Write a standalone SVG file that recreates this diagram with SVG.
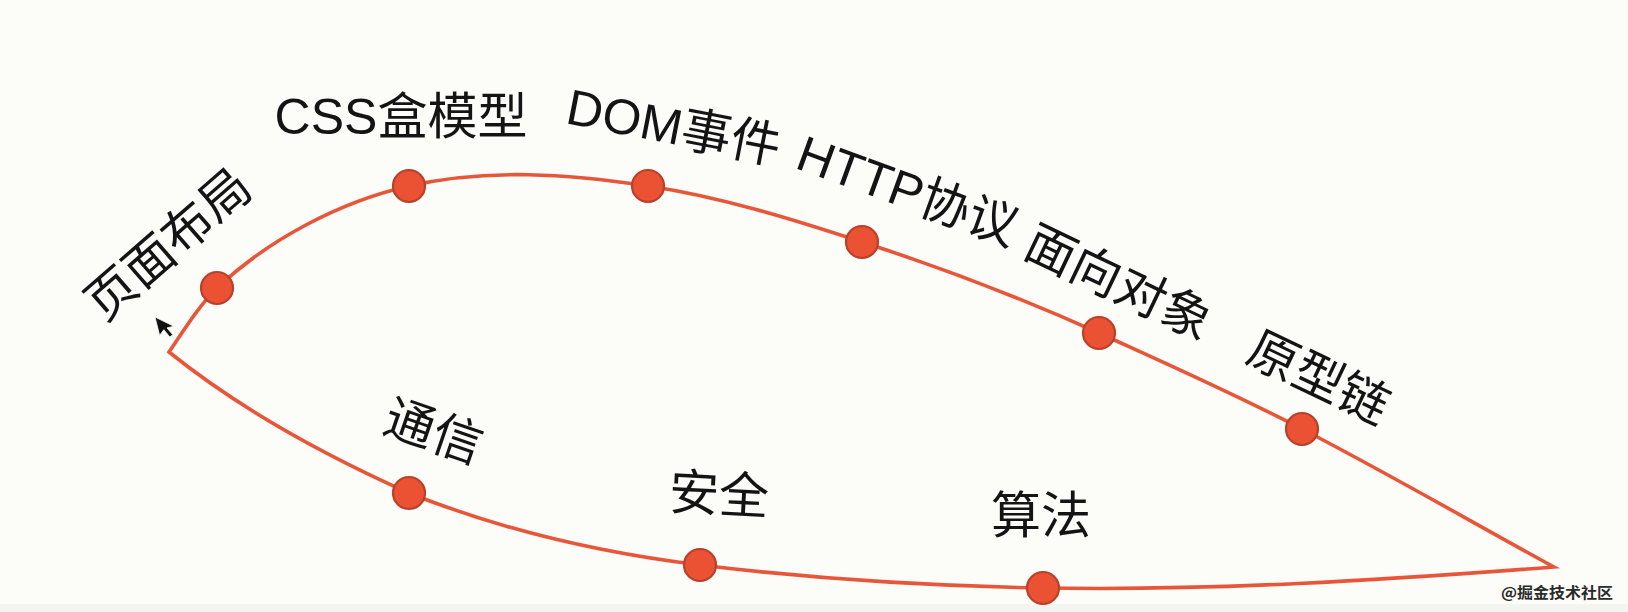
<svg xmlns="http://www.w3.org/2000/svg" width="1628" height="612" viewBox="0 0 1628 612">
  <style>
    .lbl { font-family: "Liberation Sans", "Noto Sans CJK SC", sans-serif; font-size: 50px; fill: #141414; text-anchor: middle; }
    .dot { fill: #eb5133; stroke: #b8412b; stroke-width: 2.2; }
    .curve { fill: none; stroke: #e8563a; stroke-width: 3.6; stroke-linejoin: miter; stroke-miterlimit: 20; }
    .wm { font-family: "Noto Sans CJK SC", sans-serif; font-size: 15px; font-weight: bold; fill: #2a2a2a; }
  </style>
  <rect x="0" y="0" width="1628" height="612" fill="#fcfcf9"/>
  <rect x="0" y="604" width="1628" height="8" fill="#f4f4f1"/>

  <g id="connectors">
    <path class="curve" d="M169,352 C184,330 198,307 217,288 C268,240 339,202 409,186 C487,168 569,174 648,186 C721,197 792,219 862,242 C943,268 1021,298 1099,333 C1167,364 1235,394 1302,429 C1387,473 1470,521 1554,567 C1384,580 1213,591 1043,588 C928,586 814,579 700,565 C601,553 502,530 409,493 C324,455 241,410 169,352 Z"/>
  </g>

  <g id="node-page-layout">
    <circle class="dot" cx="217" cy="288" r="16"/>
    <text class="lbl" transform="translate(168,244) rotate(-41)" x="0" y="18">页面布局</text>
  </g>
  <g id="node-css-box">
    <circle class="dot" cx="409" cy="186" r="16"/>
    <text class="lbl" x="401" y="134">CSS盒模型</text>
  </g>
  <g id="node-dom-event">
    <circle class="dot" cx="648" cy="186" r="16"/>
    <text class="lbl" transform="translate(674,126) rotate(11)" x="0" y="18">DOM事件</text>
  </g>
  <g id="node-http">
    <circle class="dot" cx="862" cy="242" r="16"/>
    <text class="lbl" transform="translate(908,190) rotate(20)" x="0" y="18">HTTP协议</text>
  </g>
  <g id="node-oop">
    <circle class="dot" cx="1099" cy="333" r="16"/>
    <text class="lbl" transform="translate(1119,282) rotate(25.5)" x="0" y="18">面向对象</text>
  </g>
  <g id="node-prototype">
    <circle class="dot" cx="1302" cy="429" r="16"/>
    <text class="lbl" transform="translate(1319,377) rotate(25.5)" x="0" y="18">原型链</text>
  </g>
  <g id="node-comm">
    <circle class="dot" cx="409" cy="493" r="16"/>
    <text class="lbl" transform="translate(434,431) rotate(19)" x="0" y="18">通信</text>
  </g>
  <g id="node-security">
    <circle class="dot" cx="700" cy="565" r="16"/>
    <text class="lbl" transform="translate(719,494) rotate(3)" x="0" y="18">安全</text>
  </g>
  <g id="node-algorithm">
    <circle class="dot" cx="1043" cy="588" r="16"/>
    <text class="lbl" x="1041" y="533">算法</text>
  </g>

  <polygon id="cursor" points="0,0 0,19 5.5,14.5 9.5,23 13,21.5 9,13.5 16,13.5" fill="#111" stroke="#f5f5f5" stroke-width="0.8" transform="translate(155,317) rotate(-14)"/>

  <text class="wm" x="1501" y="598" textLength="112" lengthAdjust="spacingAndGlyphs">@掘金技术社区</text>
</svg>
